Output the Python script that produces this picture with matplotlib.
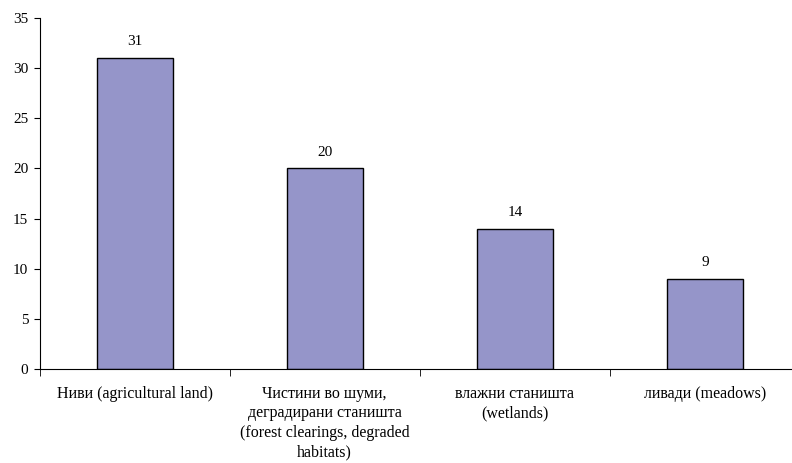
import numpy as np
import matplotlib.pyplot as plt

categories = ['Ниви (agricultural land)',
              'Чистини во шуми,\nдеградирани станишта\n(forest clearings, degraded\nhabitats)',
              'влажни станишта\n(wetlands)',
              'ливади (meadows)']
values = [31, 20, 14, 9]

plt.rcParams['font.family'] = ['Liberation Serif', 'DejaVu Serif']

fig = plt.figure(figsize=(7.92, 4.63), dpi=100)
ax = fig.add_axes([39.5/792, 94/463, 760.5/792, 351/463])

x = np.arange(len(values))
bars = ax.bar(x, values, width=0.4, color='#9595C9', edgecolor='black', linewidth=1)
for xi, v in zip(x, values):
    ax.annotate(str(v), (xi, v), xytext=(0, 7), textcoords='offset points',
                ha='center', va='bottom', fontsize=11)

ax.set_xlim(-0.5, len(values) - 0.5)
ax.set_ylim(0, 35)
ax.set_yticks(range(0, 36, 5))
ax.tick_params(axis='y', direction='out', length=4, labelsize=11, pad=4)

ax.set_xticks(x)
ax.set_xticklabels(categories, fontsize=11.5, linespacing=1.3, va='top')
ax.set_xticks(np.arange(-0.5, len(values), 1), minor=True)
ax.tick_params(axis='x', which='major', length=0, pad=12)
ax.tick_params(axis='x', which='minor', direction='out', length=5)

for s in ['top', 'right']:
    ax.spines[s].set_visible(False)

fig.savefig('out.png', dpi=100)
